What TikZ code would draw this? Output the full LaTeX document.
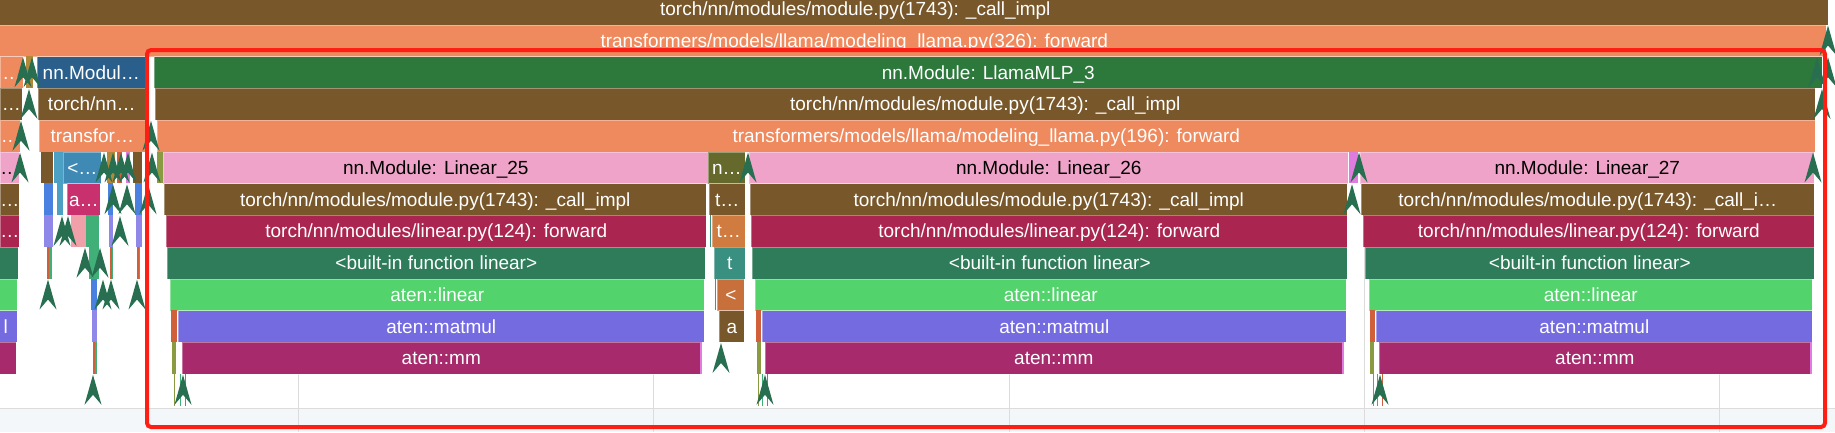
\documentclass[tikz,border=0pt]{standalone}
\usepackage{fontspec}
\setmainfont{Liberation Sans}
\usetikzlibrary{positioning}
\definecolor{callbrown}{HTML}{78572A}
\definecolor{fwdorange}{HTML}{EF8A5E}
\definecolor{mlpgreen}{HTML}{2D793C}
\definecolor{modpink}{HTML}{F0A3C8}
\definecolor{lincrimson}{HTML}{AA2650}
\definecolor{builtgreen}{HTML}{2E7C59}
\definecolor{atenlin}{HTML}{52D36B}
\definecolor{matpurple}{HTML}{756BE1}
\definecolor{mmmagenta}{HTML}{A62A6C}
\definecolor{modblue}{HTML}{2A5F8C}
\definecolor{steelblue}{HTML}{3E8AB5}
\definecolor{teallight}{HTML}{4BA0C4}
\definecolor{royalblue}{HTML}{4A80E0}
\definecolor{lavender}{HTML}{9088E8}
\definecolor{amagenta}{HTML}{C8306E}
\definecolor{salmon}{HTML}{F0A0A8}
\definecolor{midgreen}{HTML}{40B078}
\definecolor{tan}{HTML}{B08A3A}
\definecolor{redorange}{HTML}{D0603A}
\definecolor{lilac}{HTML}{E07CE0}
\definecolor{olivebox}{HTML}{656A2C}
\definecolor{olivestrip}{HTML}{8A9A40}
\definecolor{torange}{HTML}{D07B40}
\definecolor{tteal}{HTML}{3A9080}
\definecolor{ltorange}{HTML}{C8703C}
\definecolor{flowgreen}{HTML}{286E50}
\definecolor{boxred}{HTML}{FF1E14}
\definecolor{gridgray}{HTML}{DCDCDC}
\definecolor{bandblue}{HTML}{F3F7FA}
\newcommand{\rowtop}[1]{(24.5+31.75*(#1-1))}
\newcommand{\callbox}[7][]{\node[slice,fill=#6,minimum width={(#4)-(#3)},#1] (#2) at (#3,{\rowtop{#5}}) {#7};}
\newcommand{\sliver}[4]{\fill[#4] (#1,{\rowtop{#3}}) rectangle (#2,{\rowtop{#3}+31.75});}
\newcommand{\flowmark}[2]{\fill[flowgreen] (#1,{\rowtop{#2}+1}) -- ++(-8.5,30) -- ++(8.5,-10) -- ++(8.5,10) -- cycle;}

\begin{document}
\begin{tikzpicture}[x=1pt, y=-1pt,
    slice/.style={rectangle, anchor=north west, inner sep=0pt, minimum height=31.75pt,
      text height=15.5pt, text depth=2pt, draw=white, draw opacity=.35, line width=.6pt,
      text=white, font=\fontsize{19}{19}\selectfont},
    gridline/.style={draw=gridgray, line width=1pt},
    redbox/.style={draw=boxred, line width=4pt, rounded corners=4pt}]
  \useasboundingbox (0,0) rectangle (1835,432);
  \clip (0,0) rectangle (1835,432);
  \fill[white] (0,0) rectangle (1835,432);
  \fill[bandblue] (0,408.5) rectangle (1835,432);
  \draw[gridline] (0,408.5) -- (1835,408.5);
  \foreach \gx in {298,653,1009,1364,1719}
    \draw[gridline] (\gx,0) -- (\gx,432);

  \callbox{top}{-118}{1828}{0}{callbrown}{torch/nn/modules/module.py(1743): \_call\_impl}
  \callbox{layer}{-118}{1826}{1}{fwdorange}{transformers/models/llama/modeling\_llama.py(326): forward}

  \callbox{lmod}{0}{23}{2}{fwdorange}{…}
  \callbox{lcall}{0}{22}{3}{callbrown}{…}
  \callbox{lfwd}{0}{20}{4}{fwdorange}{…}
  \callbox[text=black]{llin}{0}{19}{5}{modpink}{…}
  \callbox{lcallb}{0}{19}{6}{callbrown}{…}
  \callbox{llfwd}{0}{19}{7}{lincrimson}{…}
  \callbox{lbuilt}{-8}{18}{8}{builtgreen}{}
  \callbox{laten}{-8}{17}{9}{atenlin}{}
  \callbox{lmat}{-6}{17}{10}{matpurple}{l}
  \callbox{lmm}{-8}{16}{11}{mmmagenta}{}

  \sliver{26}{33}{2}{tan}
  \callbox{othmod}{37}{145}{2}{modblue}{nn.Modul…}
  \callbox{othcall}{38}{145}{3}{callbrown}{torch/nn…}
  \callbox{othfwd}{39}{145}{4}{fwdorange}{transfor…}
  \sliver{41}{53}{5}{callbrown}
  \sliver{54}{63}{5}{teallight}
  \callbox{othfn}{63}{101}{5}{steelblue}{<…}
  \sliver{107}{115}{5}{tan}
  \sliver{117}{122}{5}{redorange}
  \sliver{126}{130}{5}{lilac}
  \sliver{133}{142}{5}{callbrown}
  \sliver{44}{53}{6}{royalblue}
  \sliver{57}{63}{6}{teallight}
  \callbox{othaten}{67}{100}{6}{amagenta}{a…}
  \sliver{108}{113}{6}{royalblue}
  \sliver{135}{142}{6}{royalblue}
  \sliver{44}{53}{7}{lavender}
  \sliver{71}{86}{7}{salmon}
  \sliver{86}{99}{7}{midgreen}
  \sliver{109}{113}{7}{lavender}
  \sliver{136}{142}{7}{lavender}
  \sliver{47}{49}{8}{redorange}
  \sliver{49}{52}{8}{midgreen}
  \sliver{89}{99}{8}{midgreen}
  \sliver{110}{111.5}{8}{redorange}
  \sliver{111.5}{113}{8}{midgreen}
  \sliver{137}{138.5}{8}{redorange}
  \sliver{138.5}{140}{8}{midgreen}
  \sliver{91}{97}{9}{royalblue}
  \sliver{92}{97}{10}{lavender}
  \sliver{93}{95}{11}{redorange}
  \sliver{95}{97}{11}{midgreen}

  \callbox{mlp}{154}{1822}{2}{mlpgreen}{nn.Module: LlamaMLP\_3}
  \callbox{mlpcall}{155}{1815}{3}{callbrown}{torch/nn/modules/module.py(1743): \_call\_impl}
  \callbox{mlpfwd}{157}{1815}{4}{fwdorange}{transformers/models/llama/modeling\_llama.py(196): forward}

  \sliver{157}{163}{5}{olivestrip}
  \callbox[text=black]{lin25}{163}{708}{5}{modpink}{nn.Module: Linear\_25}
  \callbox{lin25call}{164}{706}{6}{callbrown}{torch/nn/modules/module.py(1743): \_call\_impl}
  \callbox{lin25fwd}{166}{706}{7}{lincrimson}{torch/nn/modules/linear.py(124): forward}
  \callbox{lin25fn}{167}{705}{8}{builtgreen}{<built-in function linear>}
  \callbox{lin25aten}{170}{704}{9}{atenlin}{aten::linear}
  \sliver{171}{177}{10}{redorange}
  \callbox{lin25mat}{178}{704}{10}{matpurple}{aten::matmul}
  \sliver{172}{176}{11}{olivestrip}
  \callbox{lin25mm}{182}{700}{11}{mmmagenta}{aten::mm}
  \sliver{700}{702}{11}{lilac}
  \sliver{174}{175}{12}{olivestrip}
  \sliver{180}{181}{12}{midgreen}
  \sliver{185}{186}{12}{redorange}

  \callbox{midmod}{708}{745}{5}{olivebox}{n…}
  \callbox{midcall}{709}{745}{6}{callbrown}{t…}
  \sliver{710}{711}{7}{tteal}
  \callbox{midfwd}{712}{745}{7}{torange}{t…}
  \callbox{midfn}{714}{745}{8}{tteal}{t}
  \sliver{715}{716}{9}{redorange}
  \callbox{midaten}{717}{744}{9}{ltorange}{<}
  \callbox{midmat}{719}{744}{10}{callbrown}{a}

  \callbox[text=black]{lin26}{749}{1348}{5}{modpink}{nn.Module: Linear\_26}
  \callbox{lin26call}{750}{1347}{6}{callbrown}{torch/nn/modules/module.py(1743): \_call\_impl}
  \callbox{lin26fwd}{751}{1347}{7}{lincrimson}{torch/nn/modules/linear.py(124): forward}
  \callbox{lin26fn}{752}{1347}{8}{builtgreen}{<built-in function linear>}
  \callbox{lin26aten}{755}{1346}{9}{atenlin}{aten::linear}
  \sliver{756}{761}{10}{redorange}
  \callbox{lin26mat}{762}{1346}{10}{matpurple}{aten::matmul}
  \sliver{757}{761}{11}{olivestrip}
  \callbox{lin26mm}{765}{1342}{11}{mmmagenta}{aten::mm}
  \sliver{1342}{1344}{11}{lilac}
  \sliver{758}{759}{12}{olivestrip}
  \sliver{762}{763}{12}{midgreen}
  \sliver{767}{768}{12}{redorange}

  \sliver{1349}{1358}{5}{lilac}
  \callbox[text=black]{lin27}{1360}{1814}{5}{modpink}{nn.Module: Linear\_27}
  \callbox{lin27call}{1361}{1814}{6}{callbrown}{torch/nn/modules/module.py(1743): \_call\_i…}
  \callbox{lin27fwd}{1363}{1814}{7}{lincrimson}{torch/nn/modules/linear.py(124): forward}
  \callbox{lin27fn}{1365}{1814}{8}{builtgreen}{<built-in function linear>}
  \callbox{lin27aten}{1369}{1812}{9}{atenlin}{aten::linear}
  \sliver{1370}{1375}{10}{redorange}
  \callbox{lin27mat}{1376}{1812}{10}{matpurple}{aten::matmul}
  \sliver{1370}{1374}{11}{olivestrip}
  \callbox{lin27mm}{1379}{1810}{11}{mmmagenta}{aten::mm}
  \sliver{1810}{1812}{11}{lilac}
  \sliver{1373}{1374}{12}{olivestrip}
  \sliver{1377}{1378}{12}{midgreen}
  \sliver{1382}{1383}{12}{redorange}

  \foreach \fx/\fr in {23/2,32/2,29/3,21/4,20/5,104/5,113/5,121/5,128/5,113/6,127/6,
      62/7,68/7,120/7,85/8,100/8,48/9,103/9,111/9,137/9,93/12,151/4,152/5,148/6,
      183/12,721/11,748/5,765/12,1359/5,1352/6,1380/12,1813/5,1828/1,1817/2,1828/2,1822/3}
    {\flowmark{\fx}{\fr}}

  \draw[redbox] (147,50) rectangle (1825,427);
\end{tikzpicture}
\end{document}
